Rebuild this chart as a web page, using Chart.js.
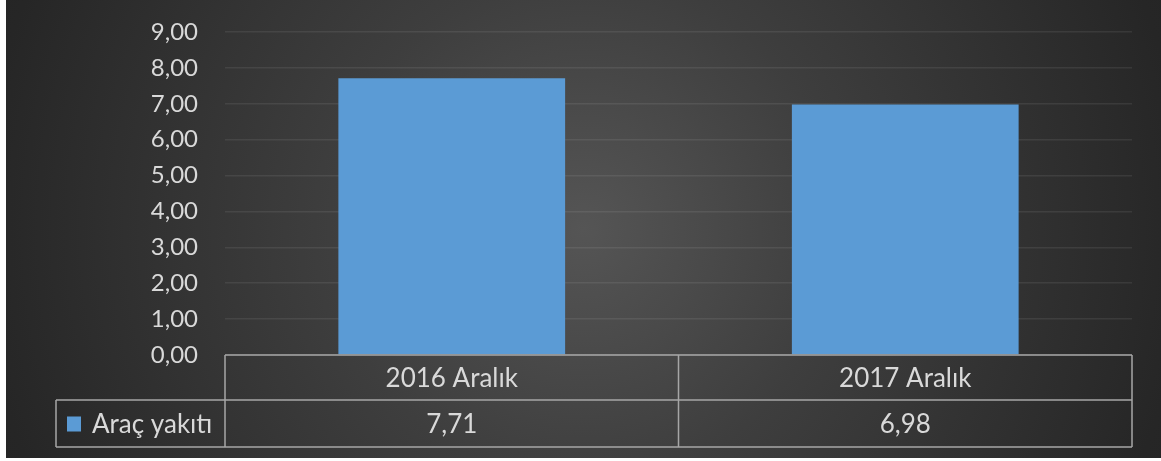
<!DOCTYPE html>
<html>
<head>
<meta charset="utf-8">
<script src="https://cdn.jsdelivr.net/npm/chart.js@4/dist/chart.umd.min.js"></script>
<style>
  html, body { margin: 0; padding: 0; background: #fff; }
  #wrap { position: absolute; left: 6px; top: 0; width: 1155px; height: 458px; }
</style>
</head>
<body>
<div id="wrap"><canvas id="chart"></canvas></div>
<script>
const categories = ["2016 Aralık", "2017 Aralık"];
const seriesName = "Araç yakıtı";
const fuelValues = [7.71, 6.98];
const yMax = 9;

const textColor = "#d9d9d9";
const barColor = "#5b9bd5";
const fontFamily = "Lato, 'Open Sans', sans-serif";

function formatComma(value) {
    return Number(value).toFixed(2).replace(".", ",");
}

// radial dark background like the office theme
const backgroundPlugin = {
    id: "bg",
    beforeDraw(chart) {
        const { ctx, width, height } = chart;
        const grad = ctx.createRadialGradient(width * 0.5, height * 0.5, 0, width * 0.5, height * 0.5, width * 0.55);
        grad.addColorStop(0, "#555555");
        grad.addColorStop(0.4, "#3e3e3e");
        grad.addColorStop(0.95, "#262626");
        grad.addColorStop(1, "#252525");
        ctx.save();
        ctx.fillStyle = grad;
        ctx.fillRect(0, 0, width, height);
        ctx.restore();
    }
};

// data table under the plot
const tablePlugin = {
    id: "dataTable",
    afterDraw(chart) {
        const { ctx, chartArea } = chart;
        const xScale = chart.scales.x;
        const top = chartArea.bottom;
        const mid = top + 45;
        const bottom = mid + 47;
        const legendLeft = 50;
        const left = chartArea.left;
        const right = chartArea.right;

        ctx.save();
        ctx.strokeStyle = "#a6a6a6";
        ctx.lineWidth = 1.5;
        ctx.beginPath();
        ctx.moveTo(left, top); ctx.lineTo(right, top);
        ctx.moveTo(legendLeft, mid); ctx.lineTo(right, mid);
        ctx.moveTo(legendLeft, bottom); ctx.lineTo(right, bottom);
        ctx.moveTo(legendLeft, mid); ctx.lineTo(legendLeft, bottom);
        ctx.moveTo(left, top); ctx.lineTo(left, bottom);
        for (let i = 1; i < categories.length; i++) {
            const x = (xScale.getPixelForTick(i - 1) + xScale.getPixelForTick(i)) / 2;
            ctx.moveTo(x, top); ctx.lineTo(x, bottom);
        }
        ctx.moveTo(right, top); ctx.lineTo(right, bottom);
        ctx.stroke();

        ctx.fillStyle = textColor;
        ctx.font = "26px " + fontFamily;
        ctx.textAlign = "center";
        ctx.textBaseline = "middle";
        categories.forEach((cat, i) => {
            const x = xScale.getPixelForTick(i);
            ctx.fillText(cat, x, (top + mid) / 2 + 1);
            ctx.fillText(formatComma(fuelValues[i]), x, (mid + bottom) / 2 + 1);
        });

        ctx.fillStyle = barColor;
        ctx.fillRect(61, (mid + bottom) / 2 - 7, 14, 15);
        ctx.fillStyle = textColor;
        ctx.textAlign = "left";
        ctx.fillText(seriesName, 86, (mid + bottom) / 2 + 1);
        ctx.restore();
    }
};

new Chart(document.getElementById("chart"), {
    type: "bar",
    data: {
        labels: categories,
        datasets: [{
            label: seriesName,
            data: fuelValues,
            backgroundColor: barColor,
            categoryPercentage: 1,
            barPercentage: 0.5,
        }]
    },
    options: {
        responsive: true,
        maintainAspectRatio: false,
        animation: false,
        layout: { padding: { top: 32, right: 29, bottom: 103, left: 0 } },
        plugins: {
            legend: { display: false },
            tooltip: { enabled: false }
        },
        scales: {
            x: {
                display: false,
            },
            y: {
                min: 0,
                max: yMax,
                afterFit(scale) {
                    scale.width = 219;
                    scale.paddingTop = 0;
                    scale.paddingBottom = 0;
                },
                border: { display: false },
                grid: {
                    color: "rgba(255,255,255,0.08)",
                    lineWidth: 1.5,
                    drawTicks: false,
                },
                ticks: {
                    stepSize: 1,
                    padding: 27,
                    color: textColor,
                    font: { family: fontFamily, size: 24 },
                    callback: (v) => formatComma(v),
                }
            }
        }
    },
    plugins: [backgroundPlugin, tablePlugin]
});
</script>
</body>
</html>
